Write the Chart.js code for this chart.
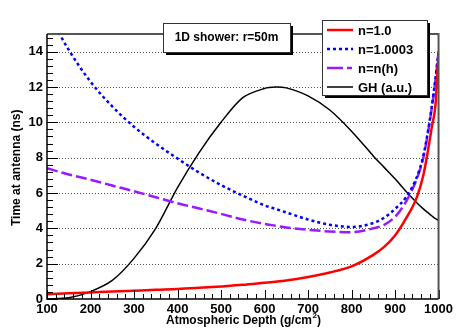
<!DOCTYPE html>
<html>
<head>
<meta charset="utf-8">
<script src="https://cdn.jsdelivr.net/npm/chart.js@4"></script>
<style>
    html, body { margin: 0; padding: 0; background: #fff; }
    #wrap { width: 456px; height: 329px; }
</style>
</head>
<body>
<div id="wrap"><canvas id="chart"></canvas></div>
<script>
// arrival time at antenna vs atmospheric depth

const depth = [100, 150, 200, 250, 300, 350, 400, 450, 500, 550, 600, 625, 650, 700, 750, 800, 850, 875, 900, 925, 950, 965, 975, 985, 993, 1000];
const timeN1 = [0.27, 0.32, 0.37, 0.42, 0.47, 0.52, 0.56, 0.63, 0.71, 0.8, 0.92, 0.98, 1.05, 1.25, 1.5, 1.85, 2.5, 2.95, 3.6, 4.55, 5.75, 7.0, 8.3, 9.8, 11.0, 14.0];
const timeN10003 = [16.3, 14.1, 12.3, 10.9, 9.75, 8.8, 7.95, 7.15, 6.45, 5.85, 5.3, 5.1, 4.9, 4.5, 4.2, 4.08, 4.3, 4.6, 5.1, 5.75, 6.9, 8.1, 9.4, 11.0, 12.5, 14.0];
const timeNh = [7.4, 7.05, 6.75, 6.42, 6.1, 5.76, 5.42, 5.12, 4.82, 4.5, 4.25, 4.15, 4.05, 3.92, 3.82, 3.78, 4.0, 4.2, 4.65, 5.5, 6.8, 8.0, 9.3, 10.9, 12.4, 14.0];
const ghProfile = [0, 0.07, 0.42, 1.05, 2.3, 4.0, 6.3, 8.3, 10.0, 11.4, 11.92, 12.0, 11.95, 11.5, 10.7, 9.5, 8.1, 7.45, 6.8, 6.1, 5.45, 5.1, 4.9, 4.7, 4.55, 4.45];

const xTicks = [100, 200, 300, 400, 500, 600, 700, 800, 900, 1000];
const yTicks = [0, 2, 4, 6, 8, 10, 12, 14];

const seriesNames = ['n=1.0', 'n=1.0003', 'n=n(h)', 'GH (a.u.)'];
const chartTitle = '1D shower: r=50m';
const xTitle = 'Atmospheric Depth (g/cm';
const yTitle = 'Time at antenna (ns)';

const FONT = '"Liberation Sans", Arial, sans-serif';

const styles = [
    { color: '#ff0000', width: 2.5, dash: [] },
    { color: '#0000ff', width: 2.5, dash: [3, 3] },
    { color: '#9a1aff', width: 2.5, dash: [11, 4] },
    { color: '#000000', width: 1.5, dash: [] }
];

function toPoints(values) {
    return depth.map((d, i) => ({ x: d, y: values[i] }));
}

// dotted horizontal grid, under the curves
const gridPlugin = {
    id: 'dotgrid',
    beforeDatasetsDraw(chart) {
        const ctx = chart.ctx;
        const area = chart.chartArea;
        const ys = chart.scales.y;
        ctx.save();
        ctx.strokeStyle = '#555';
        ctx.lineWidth = 1;
        ctx.setLineDash([1, 2]);
        yTicks.forEach(v => {
            if (v === 0) return;
            const py = Math.round(ys.getPixelForValue(v)) + 0.5;
            ctx.beginPath();
            ctx.moveTo(area.left, py);
            ctx.lineTo(area.right, py);
            ctx.stroke();
        });
        ctx.restore();
    }
};

// frame, inward ticks, title box, legend box, axis titles
const decorPlugin = {
    id: 'decor',
    afterDatasetsDraw(chart) {
        const ctx = chart.ctx;
        const area = chart.chartArea;
        const xs = chart.scales.x;
        const ys = chart.scales.y;

        ctx.save();
        ctx.setLineDash([]);

        // y ticks (left side, inward)
        ctx.strokeStyle = '#000';
        ctx.lineWidth = 1;
        for (let v = 0; v <= 15.001; v += 0.4) {
            const py = Math.round(ys.getPixelForValue(v)) + 0.5;
            const major = Math.abs(v / 2 - Math.round(v / 2)) < 0.01;
            ctx.beginPath();
            ctx.moveTo(area.left, py);
            ctx.lineTo(area.left + (major ? 11 : 6), py);
            ctx.stroke();
        }
        // x ticks (bottom, inward)
        for (let v = 100; v <= 1000; v += 20) {
            const px = Math.round(xs.getPixelForValue(v)) + 0.5;
            const major = v % 100 === 0;
            ctx.beginPath();
            ctx.moveTo(px, area.bottom);
            ctx.lineTo(px, area.bottom - (major ? 9 : 5));
            ctx.stroke();
        }

        // frame
        ctx.strokeStyle = '#555';
        ctx.lineWidth = 2;
        ctx.beginPath();
        ctx.moveTo(area.left, area.top);
        ctx.lineTo(area.right, area.top);
        ctx.lineTo(area.right, area.bottom);
        ctx.stroke();
        ctx.strokeStyle = '#000';
        ctx.lineWidth = 1.5;
        ctx.beginPath();
        ctx.moveTo(area.left, area.top);
        ctx.lineTo(area.left, area.bottom);
        ctx.lineTo(area.right, area.bottom);
        ctx.stroke();

        // title box with shadow
        drawBox(ctx, 163, 23, 127, 29);
        ctx.fillStyle = '#000';
        ctx.font = 'bold 12px ' + FONT;
        ctx.textAlign = 'center';
        ctx.textBaseline = 'middle';
        ctx.fillText(chartTitle, 226.5, 38);

        // legend box
        drawBox(ctx, 322, 20, 105, 75);
        const rows = [30, 49, 68, 87];
        ctx.textAlign = 'left';
        ctx.font = 'bold 13px ' + FONT;
        rows.forEach((ry, i) => {
            const st = styles[i];
            ctx.strokeStyle = st.color;
            ctx.lineWidth = st.width;
            ctx.setLineDash(i === 2 ? [16, 4, 5, 4] : st.dash);
            ctx.beginPath();
            ctx.moveTo(327, ry);
            ctx.lineTo(353, ry);
            ctx.stroke();
            ctx.setLineDash([]);
            ctx.fillStyle = '#000';
            ctx.fillText(seriesNames[i], 358, ry + 1);
        });

        // axis titles, right aligned like the original
        const xEnd = 323;
        ctx.font = 'bold 12px ' + FONT;
        ctx.textBaseline = 'alphabetic';
        ctx.textAlign = 'right';
        const supW = ctx.measureText(')').width + 7;
        ctx.fillText(xTitle, xEnd - supW, 324);
        ctx.font = 'bold 8px ' + FONT;
        ctx.textAlign = 'left';
        ctx.fillText('2', xEnd - supW + 0.5, 318);
        ctx.font = 'bold 12px ' + FONT;
        ctx.fillText(')', xEnd - supW + 5, 324);

        ctx.translate(20, 226);
        ctx.rotate(-Math.PI / 2);
        ctx.textAlign = 'left';
        ctx.fillText(yTitle, 0, 0);
        ctx.restore();
    }
};

function drawBox(ctx, x, y, w, h) {
    ctx.fillStyle = '#000';
    ctx.fillRect(x + 3, y + 3, w, h);
    ctx.fillStyle = '#fff';
    ctx.fillRect(x, y, w, h);
    ctx.strokeStyle = '#333';
    ctx.lineWidth = 1;
    ctx.strokeRect(x + 0.5, y + 0.5, w, h);
}

function buildChart() {
    const ctx = document.getElementById('chart').getContext('2d');
    const series = [timeN1, timeN10003, timeNh, ghProfile];

    new Chart(ctx, {
        type: 'line',
        data: {
            datasets: series.map((vals, i) => ({
                label: seriesNames[i],
                data: toPoints(vals),
                borderColor: styles[i].color,
                borderWidth: styles[i].width,
                borderDash: styles[i].dash,
                pointRadius: 0,
                fill: false,
                // the shower profile is smoother with plain bezier tension
                cubicInterpolationMode: i === 3 ? 'default' : 'monotone',
                tension: 0.3
            }))
        },
        options: {
            responsive: true,
            maintainAspectRatio: false,
            animation: false,
            layout: { padding: { left: 0, top: 34, right: 17, bottom: 0 } },
            plugins: {
                legend: { display: false },
                tooltip: { enabled: false }
            },
            scales: {
                x: {
                    type: 'linear',
                    min: 100,
                    max: 1000,
                    afterFit: (s) => { s.height = 30; },
                    afterBuildTicks: (s) => { s.ticks = xTicks.map(v => ({ value: v })); },
                    grid: { display: false, drawTicks: false },
                    border: { display: false },
                    ticks: {
                        padding: 3,
                        maxRotation: 0,
                        autoSkip: false,
                        color: '#000',
                        callback: (v) => String(v),
                        font: { family: FONT, size: 13, weight: 'bold' }
                    }
                },
                y: {
                    min: 0,
                    max: 15,
                    afterFit: (s) => { s.width = 47; },
                    afterBuildTicks: (s) => { s.ticks = yTicks.map(v => ({ value: v })); },
                    grid: { display: false, drawTicks: false },
                    border: { display: false },
                    ticks: {
                        padding: 4,
                        color: '#000',
                        font: { family: FONT, size: 13, weight: 'bold' }
                    }
                }
            }
        },
        plugins: [gridPlugin, decorPlugin]
    });
}

document.addEventListener('DOMContentLoaded', buildChart);
</script>
</body>
</html>
